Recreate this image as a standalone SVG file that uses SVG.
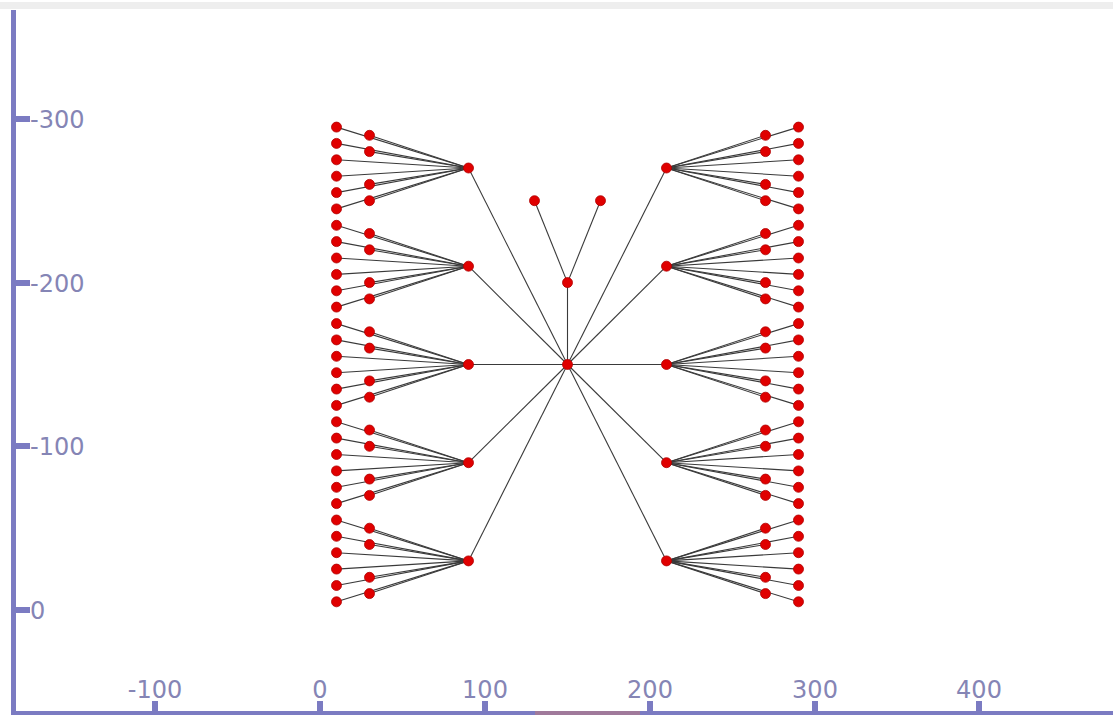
<svg xmlns="http://www.w3.org/2000/svg" width="1113" height="715" viewBox="0 0 1113 715">
<style>
.ax{fill:#7b7bc2}
.lbl{font-family:"DejaVu Sans",sans-serif;font-size:24px;fill:#8585b5}
.e{stroke:#3a3a3a;stroke-width:1.1}
.n{fill:#e00000;stroke:#b00000;stroke-width:0.8}
</style>
<rect x="0" y="0" width="1113" height="715" fill="#ffffff"/>
<rect x="0" y="2" width="1113" height="7" fill="#eeeeee"/>
<g id="axes">
<rect class="ax" x="11" y="10" width="5" height="705"/>
<rect class="ax" x="11" y="711" width="1102" height="4"/>
<rect x="535" y="711" width="105" height="4" fill="#b07a8a" opacity="0.7"/>
<rect class="ax" x="16" y="116" width="14" height="6"/>
<rect class="ax" x="16" y="280" width="14" height="6"/>
<rect class="ax" x="16" y="443" width="14" height="6"/>
<rect class="ax" x="16" y="607" width="14" height="6"/>
<text class="lbl" x="30" y="128">-300</text>
<text class="lbl" x="30" y="292">-200</text>
<text class="lbl" x="30" y="455">-100</text>
<text class="lbl" x="30" y="619">0</text>
<rect class="ax" x="152" y="701" width="6" height="11"/>
<rect class="ax" x="317" y="701" width="6" height="11"/>
<rect class="ax" x="482" y="701" width="6" height="11"/>
<rect class="ax" x="647" y="701" width="6" height="11"/>
<rect class="ax" x="812" y="701" width="6" height="11"/>
<rect class="ax" x="976" y="701" width="6" height="11"/>
<text class="lbl" x="155" y="698" text-anchor="middle">-100</text>
<text class="lbl" x="320" y="698" text-anchor="middle">0</text>
<text class="lbl" x="485" y="698" text-anchor="middle">100</text>
<text class="lbl" x="650" y="698" text-anchor="middle">200</text>
<text class="lbl" x="815" y="698" text-anchor="middle">300</text>
<text class="lbl" x="979" y="698" text-anchor="middle">400</text>
</g>
<g id="connectors">
<line class="e" x1="567.5" y1="364.5" x2="567.5" y2="282.6"/>
<line class="e" x1="567.5" y1="282.6" x2="534.5" y2="200.7"/>
<line class="e" x1="567.5" y1="282.6" x2="600.5" y2="200.7"/>
<line class="e" x1="567.5" y1="364.5" x2="468.5" y2="168"/>
<line class="e" x1="567.5" y1="364.5" x2="468.5" y2="266.2"/>
<line class="e" x1="567.5" y1="364.5" x2="468.5" y2="364.5"/>
<line class="e" x1="567.5" y1="364.5" x2="468.5" y2="462.7"/>
<line class="e" x1="567.5" y1="364.5" x2="468.5" y2="560.9"/>
<line class="e" x1="567.5" y1="364.5" x2="666.5" y2="168"/>
<line class="e" x1="567.5" y1="364.5" x2="666.5" y2="266.2"/>
<line class="e" x1="567.5" y1="364.5" x2="666.5" y2="364.5"/>
<line class="e" x1="567.5" y1="364.5" x2="666.5" y2="462.7"/>
<line class="e" x1="567.5" y1="364.5" x2="666.5" y2="560.9"/>
<!-- L1 -->
<line class="e" x1="468.5" y1="168" x2="336.5" y2="127.1"/>
<line class="e" x1="468.5" y1="168" x2="336.5" y2="143.4"/>
<line class="e" x1="468.5" y1="168" x2="336.5" y2="159.8"/>
<line class="e" x1="468.5" y1="168" x2="336.5" y2="176.2"/>
<line class="e" x1="468.5" y1="168" x2="336.5" y2="192.6"/>
<line class="e" x1="468.5" y1="168" x2="336.5" y2="208.9"/>
<line class="e" x1="468.5" y1="168" x2="369.5" y2="135.3"/>
<line class="e" x1="468.5" y1="168" x2="369.5" y2="151.6"/>
<line class="e" x1="468.5" y1="168" x2="369.5" y2="184.4"/>
<line class="e" x1="468.5" y1="168" x2="369.5" y2="200.7"/>
<!-- L2 -->
<line class="e" x1="468.5" y1="266.2" x2="336.5" y2="225.3"/>
<line class="e" x1="468.5" y1="266.2" x2="336.5" y2="241.6"/>
<line class="e" x1="468.5" y1="266.2" x2="336.5" y2="258"/>
<line class="e" x1="468.5" y1="266.2" x2="336.5" y2="274.4"/>
<line class="e" x1="468.5" y1="266.2" x2="336.5" y2="290.8"/>
<line class="e" x1="468.5" y1="266.2" x2="336.5" y2="307.1"/>
<line class="e" x1="468.5" y1="266.2" x2="369.5" y2="233.5"/>
<line class="e" x1="468.5" y1="266.2" x2="369.5" y2="249.8"/>
<line class="e" x1="468.5" y1="266.2" x2="369.5" y2="282.6"/>
<line class="e" x1="468.5" y1="266.2" x2="369.5" y2="298.9"/>
<!-- L3 -->
<line class="e" x1="468.5" y1="364.5" x2="336.5" y2="323.6"/>
<line class="e" x1="468.5" y1="364.5" x2="336.5" y2="339.9"/>
<line class="e" x1="468.5" y1="364.5" x2="336.5" y2="356.3"/>
<line class="e" x1="468.5" y1="364.5" x2="336.5" y2="372.7"/>
<line class="e" x1="468.5" y1="364.5" x2="336.5" y2="389.1"/>
<line class="e" x1="468.5" y1="364.5" x2="336.5" y2="405.4"/>
<line class="e" x1="468.5" y1="364.5" x2="369.5" y2="331.8"/>
<line class="e" x1="468.5" y1="364.5" x2="369.5" y2="348.1"/>
<line class="e" x1="468.5" y1="364.5" x2="369.5" y2="380.9"/>
<line class="e" x1="468.5" y1="364.5" x2="369.5" y2="397.2"/>
<!-- L4 -->
<line class="e" x1="468.5" y1="462.7" x2="336.5" y2="421.8"/>
<line class="e" x1="468.5" y1="462.7" x2="336.5" y2="438.1"/>
<line class="e" x1="468.5" y1="462.7" x2="336.5" y2="454.5"/>
<line class="e" x1="468.5" y1="462.7" x2="336.5" y2="470.9"/>
<line class="e" x1="468.5" y1="462.7" x2="336.5" y2="487.3"/>
<line class="e" x1="468.5" y1="462.7" x2="336.5" y2="503.6"/>
<line class="e" x1="468.5" y1="462.7" x2="369.5" y2="430"/>
<line class="e" x1="468.5" y1="462.7" x2="369.5" y2="446.3"/>
<line class="e" x1="468.5" y1="462.7" x2="369.5" y2="479.1"/>
<line class="e" x1="468.5" y1="462.7" x2="369.5" y2="495.4"/>
<!-- L5 -->
<line class="e" x1="468.5" y1="560.9" x2="336.5" y2="520"/>
<line class="e" x1="468.5" y1="560.9" x2="336.5" y2="536.3"/>
<line class="e" x1="468.5" y1="560.9" x2="336.5" y2="552.7"/>
<line class="e" x1="468.5" y1="560.9" x2="336.5" y2="569.1"/>
<line class="e" x1="468.5" y1="560.9" x2="336.5" y2="585.5"/>
<line class="e" x1="468.5" y1="560.9" x2="336.5" y2="601.8"/>
<line class="e" x1="468.5" y1="560.9" x2="369.5" y2="528.2"/>
<line class="e" x1="468.5" y1="560.9" x2="369.5" y2="544.5"/>
<line class="e" x1="468.5" y1="560.9" x2="369.5" y2="577.3"/>
<line class="e" x1="468.5" y1="560.9" x2="369.5" y2="593.6"/>
<!-- R1 -->
<line class="e" x1="666.5" y1="168" x2="798.5" y2="127.1"/>
<line class="e" x1="666.5" y1="168" x2="798.5" y2="143.4"/>
<line class="e" x1="666.5" y1="168" x2="798.5" y2="159.8"/>
<line class="e" x1="666.5" y1="168" x2="798.5" y2="176.2"/>
<line class="e" x1="666.5" y1="168" x2="798.5" y2="192.6"/>
<line class="e" x1="666.5" y1="168" x2="798.5" y2="208.9"/>
<line class="e" x1="666.5" y1="168" x2="765.5" y2="135.3"/>
<line class="e" x1="666.5" y1="168" x2="765.5" y2="151.6"/>
<line class="e" x1="666.5" y1="168" x2="765.5" y2="184.4"/>
<line class="e" x1="666.5" y1="168" x2="765.5" y2="200.7"/>
<!-- R2 -->
<line class="e" x1="666.5" y1="266.2" x2="798.5" y2="225.3"/>
<line class="e" x1="666.5" y1="266.2" x2="798.5" y2="241.6"/>
<line class="e" x1="666.5" y1="266.2" x2="798.5" y2="258"/>
<line class="e" x1="666.5" y1="266.2" x2="798.5" y2="274.4"/>
<line class="e" x1="666.5" y1="266.2" x2="798.5" y2="290.8"/>
<line class="e" x1="666.5" y1="266.2" x2="798.5" y2="307.1"/>
<line class="e" x1="666.5" y1="266.2" x2="765.5" y2="233.5"/>
<line class="e" x1="666.5" y1="266.2" x2="765.5" y2="249.8"/>
<line class="e" x1="666.5" y1="266.2" x2="765.5" y2="282.6"/>
<line class="e" x1="666.5" y1="266.2" x2="765.5" y2="298.9"/>
<!-- R3 -->
<line class="e" x1="666.5" y1="364.5" x2="798.5" y2="323.6"/>
<line class="e" x1="666.5" y1="364.5" x2="798.5" y2="339.9"/>
<line class="e" x1="666.5" y1="364.5" x2="798.5" y2="356.3"/>
<line class="e" x1="666.5" y1="364.5" x2="798.5" y2="372.7"/>
<line class="e" x1="666.5" y1="364.5" x2="798.5" y2="389.1"/>
<line class="e" x1="666.5" y1="364.5" x2="798.5" y2="405.4"/>
<line class="e" x1="666.5" y1="364.5" x2="765.5" y2="331.8"/>
<line class="e" x1="666.5" y1="364.5" x2="765.5" y2="348.1"/>
<line class="e" x1="666.5" y1="364.5" x2="765.5" y2="380.9"/>
<line class="e" x1="666.5" y1="364.5" x2="765.5" y2="397.2"/>
<!-- R4 -->
<line class="e" x1="666.5" y1="462.7" x2="798.5" y2="421.8"/>
<line class="e" x1="666.5" y1="462.7" x2="798.5" y2="438.1"/>
<line class="e" x1="666.5" y1="462.7" x2="798.5" y2="454.5"/>
<line class="e" x1="666.5" y1="462.7" x2="798.5" y2="470.9"/>
<line class="e" x1="666.5" y1="462.7" x2="798.5" y2="487.3"/>
<line class="e" x1="666.5" y1="462.7" x2="798.5" y2="503.6"/>
<line class="e" x1="666.5" y1="462.7" x2="765.5" y2="430"/>
<line class="e" x1="666.5" y1="462.7" x2="765.5" y2="446.3"/>
<line class="e" x1="666.5" y1="462.7" x2="765.5" y2="479.1"/>
<line class="e" x1="666.5" y1="462.7" x2="765.5" y2="495.4"/>
<!-- R5 -->
<line class="e" x1="666.5" y1="560.9" x2="798.5" y2="520"/>
<line class="e" x1="666.5" y1="560.9" x2="798.5" y2="536.3"/>
<line class="e" x1="666.5" y1="560.9" x2="798.5" y2="552.7"/>
<line class="e" x1="666.5" y1="560.9" x2="798.5" y2="569.1"/>
<line class="e" x1="666.5" y1="560.9" x2="798.5" y2="585.5"/>
<line class="e" x1="666.5" y1="560.9" x2="798.5" y2="601.8"/>
<line class="e" x1="666.5" y1="560.9" x2="765.5" y2="528.2"/>
<line class="e" x1="666.5" y1="560.9" x2="765.5" y2="544.5"/>
<line class="e" x1="666.5" y1="560.9" x2="765.5" y2="577.3"/>
<line class="e" x1="666.5" y1="560.9" x2="765.5" y2="593.6"/>
</g>
<g id="nodes">
<g id="center"><circle class="n" cx="567.5" cy="364.5" r="5"/></g>
<g id="top"><circle class="n" cx="567.5" cy="282.6" r="5"/></g>
<g id="topA"><circle class="n" cx="534.5" cy="200.7" r="5"/></g>
<g id="topB"><circle class="n" cx="600.5" cy="200.7" r="5"/></g>
<g id="L1"><circle class="n" cx="468.5" cy="168" r="5"/></g>
<g id="L2"><circle class="n" cx="468.5" cy="266.2" r="5"/></g>
<g id="L3"><circle class="n" cx="468.5" cy="364.5" r="5"/></g>
<g id="L4"><circle class="n" cx="468.5" cy="462.7" r="5"/></g>
<g id="L5"><circle class="n" cx="468.5" cy="560.9" r="5"/></g>
<g id="R1"><circle class="n" cx="666.5" cy="168" r="5"/></g>
<g id="R2"><circle class="n" cx="666.5" cy="266.2" r="5"/></g>
<g id="R3"><circle class="n" cx="666.5" cy="364.5" r="5"/></g>
<g id="R4"><circle class="n" cx="666.5" cy="462.7" r="5"/></g>
<g id="R5"><circle class="n" cx="666.5" cy="560.9" r="5"/></g>
<g id="L1a"><circle class="n" cx="336.5" cy="127.1" r="5"/></g>
<g id="L1b"><circle class="n" cx="336.5" cy="143.4" r="5"/></g>
<g id="L1c"><circle class="n" cx="336.5" cy="159.8" r="5"/></g>
<g id="L1d"><circle class="n" cx="336.5" cy="176.2" r="5"/></g>
<g id="L1e"><circle class="n" cx="336.5" cy="192.6" r="5"/></g>
<g id="L1f"><circle class="n" cx="336.5" cy="208.9" r="5"/></g>
<g id="L1g"><circle class="n" cx="369.5" cy="135.3" r="5"/></g>
<g id="L1h"><circle class="n" cx="369.5" cy="151.6" r="5"/></g>
<g id="L1i"><circle class="n" cx="369.5" cy="184.4" r="5"/></g>
<g id="L1j"><circle class="n" cx="369.5" cy="200.7" r="5"/></g>
<g id="L2a"><circle class="n" cx="336.5" cy="225.3" r="5"/></g>
<g id="L2b"><circle class="n" cx="336.5" cy="241.6" r="5"/></g>
<g id="L2c"><circle class="n" cx="336.5" cy="258" r="5"/></g>
<g id="L2d"><circle class="n" cx="336.5" cy="274.4" r="5"/></g>
<g id="L2e"><circle class="n" cx="336.5" cy="290.8" r="5"/></g>
<g id="L2f"><circle class="n" cx="336.5" cy="307.1" r="5"/></g>
<g id="L2g"><circle class="n" cx="369.5" cy="233.5" r="5"/></g>
<g id="L2h"><circle class="n" cx="369.5" cy="249.8" r="5"/></g>
<g id="L2i"><circle class="n" cx="369.5" cy="282.6" r="5"/></g>
<g id="L2j"><circle class="n" cx="369.5" cy="298.9" r="5"/></g>
<g id="L3a"><circle class="n" cx="336.5" cy="323.6" r="5"/></g>
<g id="L3b"><circle class="n" cx="336.5" cy="339.9" r="5"/></g>
<g id="L3c"><circle class="n" cx="336.5" cy="356.3" r="5"/></g>
<g id="L3d"><circle class="n" cx="336.5" cy="372.7" r="5"/></g>
<g id="L3e"><circle class="n" cx="336.5" cy="389.1" r="5"/></g>
<g id="L3f"><circle class="n" cx="336.5" cy="405.4" r="5"/></g>
<g id="L3g"><circle class="n" cx="369.5" cy="331.8" r="5"/></g>
<g id="L3h"><circle class="n" cx="369.5" cy="348.1" r="5"/></g>
<g id="L3i"><circle class="n" cx="369.5" cy="380.9" r="5"/></g>
<g id="L3j"><circle class="n" cx="369.5" cy="397.2" r="5"/></g>
<g id="L4a"><circle class="n" cx="336.5" cy="421.8" r="5"/></g>
<g id="L4b"><circle class="n" cx="336.5" cy="438.1" r="5"/></g>
<g id="L4c"><circle class="n" cx="336.5" cy="454.5" r="5"/></g>
<g id="L4d"><circle class="n" cx="336.5" cy="470.9" r="5"/></g>
<g id="L4e"><circle class="n" cx="336.5" cy="487.3" r="5"/></g>
<g id="L4f"><circle class="n" cx="336.5" cy="503.6" r="5"/></g>
<g id="L4g"><circle class="n" cx="369.5" cy="430" r="5"/></g>
<g id="L4h"><circle class="n" cx="369.5" cy="446.3" r="5"/></g>
<g id="L4i"><circle class="n" cx="369.5" cy="479.1" r="5"/></g>
<g id="L4j"><circle class="n" cx="369.5" cy="495.4" r="5"/></g>
<g id="L5a"><circle class="n" cx="336.5" cy="520" r="5"/></g>
<g id="L5b"><circle class="n" cx="336.5" cy="536.3" r="5"/></g>
<g id="L5c"><circle class="n" cx="336.5" cy="552.7" r="5"/></g>
<g id="L5d"><circle class="n" cx="336.5" cy="569.1" r="5"/></g>
<g id="L5e"><circle class="n" cx="336.5" cy="585.5" r="5"/></g>
<g id="L5f"><circle class="n" cx="336.5" cy="601.8" r="5"/></g>
<g id="L5g"><circle class="n" cx="369.5" cy="528.2" r="5"/></g>
<g id="L5h"><circle class="n" cx="369.5" cy="544.5" r="5"/></g>
<g id="L5i"><circle class="n" cx="369.5" cy="577.3" r="5"/></g>
<g id="L5j"><circle class="n" cx="369.5" cy="593.6" r="5"/></g>
<g id="R1a"><circle class="n" cx="798.5" cy="127.1" r="5"/></g>
<g id="R1b"><circle class="n" cx="798.5" cy="143.4" r="5"/></g>
<g id="R1c"><circle class="n" cx="798.5" cy="159.8" r="5"/></g>
<g id="R1d"><circle class="n" cx="798.5" cy="176.2" r="5"/></g>
<g id="R1e"><circle class="n" cx="798.5" cy="192.6" r="5"/></g>
<g id="R1f"><circle class="n" cx="798.5" cy="208.9" r="5"/></g>
<g id="R1g"><circle class="n" cx="765.5" cy="135.3" r="5"/></g>
<g id="R1h"><circle class="n" cx="765.5" cy="151.6" r="5"/></g>
<g id="R1i"><circle class="n" cx="765.5" cy="184.4" r="5"/></g>
<g id="R1j"><circle class="n" cx="765.5" cy="200.7" r="5"/></g>
<g id="R2a"><circle class="n" cx="798.5" cy="225.3" r="5"/></g>
<g id="R2b"><circle class="n" cx="798.5" cy="241.6" r="5"/></g>
<g id="R2c"><circle class="n" cx="798.5" cy="258" r="5"/></g>
<g id="R2d"><circle class="n" cx="798.5" cy="274.4" r="5"/></g>
<g id="R2e"><circle class="n" cx="798.5" cy="290.8" r="5"/></g>
<g id="R2f"><circle class="n" cx="798.5" cy="307.1" r="5"/></g>
<g id="R2g"><circle class="n" cx="765.5" cy="233.5" r="5"/></g>
<g id="R2h"><circle class="n" cx="765.5" cy="249.8" r="5"/></g>
<g id="R2i"><circle class="n" cx="765.5" cy="282.6" r="5"/></g>
<g id="R2j"><circle class="n" cx="765.5" cy="298.9" r="5"/></g>
<g id="R3a"><circle class="n" cx="798.5" cy="323.6" r="5"/></g>
<g id="R3b"><circle class="n" cx="798.5" cy="339.9" r="5"/></g>
<g id="R3c"><circle class="n" cx="798.5" cy="356.3" r="5"/></g>
<g id="R3d"><circle class="n" cx="798.5" cy="372.7" r="5"/></g>
<g id="R3e"><circle class="n" cx="798.5" cy="389.1" r="5"/></g>
<g id="R3f"><circle class="n" cx="798.5" cy="405.4" r="5"/></g>
<g id="R3g"><circle class="n" cx="765.5" cy="331.8" r="5"/></g>
<g id="R3h"><circle class="n" cx="765.5" cy="348.1" r="5"/></g>
<g id="R3i"><circle class="n" cx="765.5" cy="380.9" r="5"/></g>
<g id="R3j"><circle class="n" cx="765.5" cy="397.2" r="5"/></g>
<g id="R4a"><circle class="n" cx="798.5" cy="421.8" r="5"/></g>
<g id="R4b"><circle class="n" cx="798.5" cy="438.1" r="5"/></g>
<g id="R4c"><circle class="n" cx="798.5" cy="454.5" r="5"/></g>
<g id="R4d"><circle class="n" cx="798.5" cy="470.9" r="5"/></g>
<g id="R4e"><circle class="n" cx="798.5" cy="487.3" r="5"/></g>
<g id="R4f"><circle class="n" cx="798.5" cy="503.6" r="5"/></g>
<g id="R4g"><circle class="n" cx="765.5" cy="430" r="5"/></g>
<g id="R4h"><circle class="n" cx="765.5" cy="446.3" r="5"/></g>
<g id="R4i"><circle class="n" cx="765.5" cy="479.1" r="5"/></g>
<g id="R4j"><circle class="n" cx="765.5" cy="495.4" r="5"/></g>
<g id="R5a"><circle class="n" cx="798.5" cy="520" r="5"/></g>
<g id="R5b"><circle class="n" cx="798.5" cy="536.3" r="5"/></g>
<g id="R5c"><circle class="n" cx="798.5" cy="552.7" r="5"/></g>
<g id="R5d"><circle class="n" cx="798.5" cy="569.1" r="5"/></g>
<g id="R5e"><circle class="n" cx="798.5" cy="585.5" r="5"/></g>
<g id="R5f"><circle class="n" cx="798.5" cy="601.8" r="5"/></g>
<g id="R5g"><circle class="n" cx="765.5" cy="528.2" r="5"/></g>
<g id="R5h"><circle class="n" cx="765.5" cy="544.5" r="5"/></g>
<g id="R5i"><circle class="n" cx="765.5" cy="577.3" r="5"/></g>
<g id="R5j"><circle class="n" cx="765.5" cy="593.6" r="5"/></g>
</g>
</svg>
